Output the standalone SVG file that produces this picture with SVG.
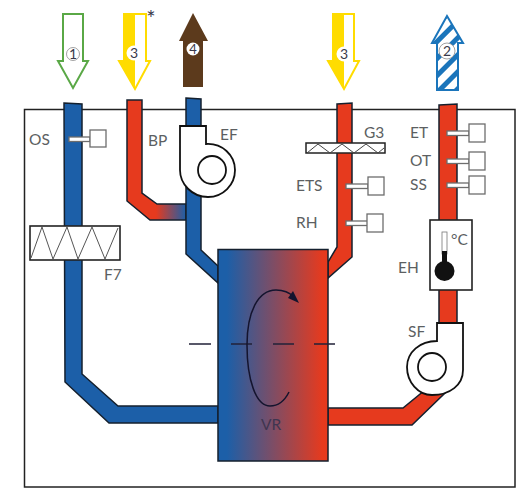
<svg xmlns="http://www.w3.org/2000/svg" width="529" height="499" viewBox="0 0 529 499">
<style>
.t{font-family:Lato,"Noto Sans",sans-serif;font-size:15.5px;fill:#5c5f62}
.n{font-family:Lato,"Noto Sans",sans-serif;font-size:14px;fill:#3a3a4a;text-anchor:middle}
.d{stroke:#14202e;stroke-width:1.5}
.b{fill:#1c5fa8}
.r{fill:#e63a1e}
.s{fill:#fff;stroke:#6d6d6d;stroke-width:1.3}
.k{fill:#fff;stroke:#111;stroke-width:1.8}
.c{fill:#fff;stroke:#8a8a8a;stroke-width:.8}
</style>
<defs>
<linearGradient id="vr" x1="0" x2="1" y1="0" y2="0"><stop offset="0.08" stop-color="#1c5fa8"/><stop offset="0.95" stop-color="#e63a1e"/></linearGradient>
<linearGradient id="bp" gradientUnits="userSpaceOnUse" x1="156" x2="186" y1="0" y2="0"><stop offset="0" stop-color="#e63a1e"/><stop offset="1" stop-color="#1c5fa8"/></linearGradient>
<pattern id="h" patternUnits="userSpaceOnUse" width="12" height="12" patternTransform="rotate(-45)"><rect width="12" height="12" fill="#fff"/><rect width="12" height="5" fill="#1b75bb"/></pattern>
</defs>
<rect id="frame" x="24.500" y="109.500" width="490.500" height="377.500" fill="#fff" stroke="#222" stroke-width="1.500"/>
<g id="connectors">
<path class="b d" d="M64,103 L82,104 V374 L118,406 H218 V423 H109 L65,382 Z"/>
<path fill="url(#bp)" class="d" d="M127,100 H142 V193 L157,204 H186 V220 H150 L127,201 Z"/>
<path class="b d" d="M186,98 L201,99 V250 L218,266 V283 L186,254 Z"/>
<path class="r d" d="M337,104 L352,103 V257 L328,278 V262 L337,247 Z"/>
<path class="r d" d="M439,105 L457,104 V324 H439 Z"/>
<path class="r d" d="M328,408 H403 L425,390 L446,392 L412,425 H328 Z"/>
</g>
<g id="VR">
<rect x="218" y="249.500" width="110" height="211.500" fill="url(#vr)" stroke="#14202e" stroke-width="1.500"/>
<path d="M189,344H211M231,344H252M273,344H294M314,344H335" stroke="#222238" stroke-width="1.500" fill="none"/>
<path d="M289,392 C284,402 277,406 270,406 C256,406 247,380 247,345 C247,312 258,290 276,290 C284,290 290,293 294,297" fill="none" stroke="#14142e" stroke-width="1.500"/>
<path d="M299,303 L288,298 L293,291 Z" fill="#14142e"/>
<text class="t" x="261" y="430" style="fill:#3f3550">VR</text>
</g>
<g id="arrow1"><path d="M63,14 H83 V61 H88 L73,88 L58,61 H63 Z" fill="#fff" stroke="#5aa846" stroke-width="2"/><circle class="c" cx="73" cy="54" r="6.500"/><text class="n" x="73" y="59">1</text></g>
<g id="arrow3a"><path d="M124,14 H146 V61 H150 L135,89 L119,61 H124 Z" fill="#fff" stroke="#ffdc00" stroke-width="2"/><path d="M124,14 H135 V89 L119,61 H124 Z" fill="#ffdc00"/><circle cx="134" cy="53" r="7.500" fill="#fff"/><text class="n" x="134" y="58">3</text><text class="n" x="151" y="26" style="font-size:22px">*</text></g>
<g id="arrow4"><path d="M183,87 V41 H179 L193,13 L208,41 H203 V87 Z" fill="#5c3a1c"/><circle cx="193" cy="49" r="6.500" fill="#fff"/><text class="n" x="193" y="54" style="font-size:13px">4</text></g>
<g id="arrow3b"><path d="M333,14 H354 V61 H359 L344,89 L328,61 H333 Z" fill="#fff" stroke="#ffdc00" stroke-width="2"/><path d="M333,14 H344 V89 L328,61 H333 Z" fill="#ffdc00"/><circle cx="344" cy="54" r="7.500" fill="#fff"/><text class="n" x="344" y="59">3</text></g>
<g id="arrow2"><path d="M437,90 V43 H432 L447,16 L463,43 H458 V90 Z" fill="url(#h)" stroke="#1b75bb" stroke-width="2"/><circle class="c" cx="447" cy="51" r="8"/><text class="n" x="447" y="56">2</text></g>
<g id="OS"><text class="t" x="29" y="145">OS</text><rect class="s" x="69" y="137" width="21" height="4.500"/><rect class="s" x="90" y="130" width="16" height="17"/></g>
<g id="F7"><rect x="30" y="226" width="90" height="34" fill="#fff" stroke="#222" stroke-width="1.600"/><path d="M31,258 L42,227 L53,259 L67,227 L78,259 L92,227 L105,259 L118,228" fill="none" stroke="#555" stroke-width="1"/><text class="t" x="104" y="280">F7</text></g>
<g id="BP"><text class="t" x="148" y="146">BP</text></g>
<g id="EF"><path class="k" d="M180,126 H206 V144 C222,143 235,155 235,170 C235,185 223,197 208,197 C192,197 180,184 180,170 Z"/><circle class="k" cx="212" cy="170" r="14"/><text class="t" x="220" y="140">EF</text></g>
<g id="G3"><text class="t" x="364" y="138">G3</text><rect x="306" y="143" width="79" height="10" fill="#fff" stroke="#222" stroke-width="1.500"/><path d="M307,153 L318,144 L330,153 L342,144 L354,153 L366,144 L378,153 L384,148" fill="none" stroke="#444" stroke-width="1"/></g>
<g id="ETS"><text class="t" x="296" y="191">ETS</text><rect class="s" x="346" y="184" width="22" height="4.500"/><rect class="s" x="368" y="177" width="16" height="18"/></g>
<g id="RH"><text class="t" x="296" y="228">RH</text><rect class="s" x="346" y="221" width="22" height="4.500"/><rect class="s" x="367" y="214" width="16" height="18"/></g>
<g id="ET"><text class="t" x="410" y="138">ET</text><rect class="s" x="447" y="131" width="22" height="4.500"/><rect class="s" x="469" y="124" width="16" height="18"/></g>
<g id="OT"><text class="t" x="410" y="166">OT</text><rect class="s" x="447" y="159" width="22" height="4.500"/><rect class="s" x="469" y="152" width="16" height="18"/></g>
<g id="SS"><text class="t" x="410" y="190">SS</text><rect class="s" x="447" y="183" width="22" height="4.500"/><rect class="s" x="469" y="176" width="16" height="18"/></g>
<g id="EH"><rect x="430" y="220" width="42" height="70" fill="#fff" stroke="#222" stroke-width="1.600"/><rect x="442" y="232" width="5" height="22" fill="#fff" stroke="#777" stroke-width=".8"/><rect x="442" y="251" width="5" height="12" fill="#111"/><circle cx="444.500" cy="271" r="10" fill="#111"/><text class="t" x="451" y="245">°C</text><text class="t" x="398" y="273">EH</text></g>
<g id="SF"><path class="k" d="M437,323 H463 V370 C463,385 450,395 432,395 C418,395 407,382 407,367 C407,352 420,341 437,341 Z"/><circle class="k" cx="432" cy="367" r="14"/><text class="t" x="408" y="337">SF</text></g>
</svg>
